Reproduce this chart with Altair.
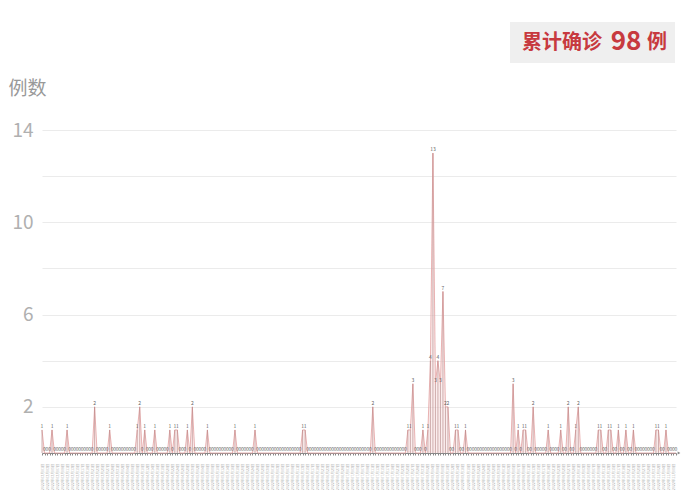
import altair as alt
import pandas as pd

# ---- data ----
N_DAYS = 254
dates = pd.date_range("2022-03-01", periods=N_DAYS).strftime("%Y年%m月%d日").tolist()

case_day_index = [0, 4, 10, 21, 27, 38, 39, 41, 45, 51, 53, 54, 58, 60, 66, 77, 85,
                  104, 105, 132, 146, 147, 148, 152, 154, 155, 156, 157, 158, 159,
                  160, 161, 162, 165, 166, 169, 188, 190, 192, 193, 196, 202, 207,
                  210, 213, 214, 222, 223, 226, 227, 230, 233, 236, 245, 246, 249]
case_counts = [1, 1, 1, 2, 1, 1, 2, 1, 1, 1, 1, 1, 1, 2, 1, 1, 1,
               1, 1, 2, 1, 1, 3, 1, 1, 4, 13, 3, 4, 3,
               7, 2, 2, 1, 1, 1, 3, 1, 1, 1, 2, 1, 1,
               2, 1, 2, 1, 1, 1, 1, 1, 1, 1, 1, 1, 1]

y_ticks = [0, 2, 4, 6, 8, 10, 12, 14]
total_text = ["累计确诊", "98", "例"]

counts = [0] * N_DAYS
for i, c in zip(case_day_index, case_counts):
    counts[i] = c
df = pd.DataFrame({"date": dates, "count": counts, "zero": [0] * N_DAYS})

FONT = "Noto Sans CJK SC"
RED = "#c73a3f"

x_enc = alt.X(
    "date:O",
    sort=None,
    scale=alt.Scale(type="point", padding=0),
    axis=alt.Axis(
        title=None, labelAngle=270, labelFontSize=3.6, labelColor="#b0b0b0",
        labelOverlap="parity", labelPadding=8, tickSize=2, tickColor="#888",
        domainColor="#888", domainWidth=1, grid=False, labelFont=FONT,
    ),
)
y_enc = alt.Y(
    "count:Q",
    scale=alt.Scale(domain=[0, 14], nice=False),
    axis=alt.Axis(
        values=y_ticks,
        labelExpr="datum.value % 4 == 2 ? datum.label : ''",
        grid=True, gridColor="#ebebeb", domain=False, ticks=False,
        labelFontSize=19, labelColor="#b0b0b0", labelPadding=9, labelFont=FONT,
        title="例数", titleAngle=0, titleX=-34, titleY=-42, titleAlign="left",
        titleBaseline="middle", titleFontSize=19, titleColor="#999999",
        titleFontWeight="normal", titleFont=FONT,
    ),
)

base = alt.Chart(df)

area = base.mark_area(color="#f6dada", opacity=0.45, interpolate="linear").encode(x=x_enc, y=y_enc)
line = base.mark_line(color="#e3a0a0", strokeWidth=0.8).encode(x=x_enc, y=y_enc)
stems = base.mark_rule(color="#b08080", strokeWidth=0.6).encode(
    x=x_enc, y=y_enc, y2=alt.Y2("zero:Q")
)
labels = base.mark_text(fontSize=5, color="#666666", baseline="bottom", dy=-1, font=FONT).encode(
    x=x_enc, y=y_enc, text="count:Q"
)

arrow_df = pd.DataFrame({"date": [dates[-1]], "count": [0]})
arrow = alt.Chart(arrow_df).mark_point(
    shape="triangle-right", filled=True, size=10, color="#888", xOffset=3, opacity=1
).encode(x=x_enc, y=y_enc)

deco_df = pd.DataFrame({"k": [0]})
box = alt.Chart(deco_df).mark_rect(color="#efefef").encode(
    x=alt.value(468), x2=alt.value(633), y=alt.value(-108), y2=alt.value(-67)
)
t1 = alt.Chart(deco_df).mark_text(
    text=total_text[0], font=FONT, fontSize=20, fontWeight="bold", color=RED,
    align="left", baseline="middle"
).encode(x=alt.value(480), y=alt.value(-87))
t2 = alt.Chart(deco_df).mark_text(
    text=total_text[1], font=FONT, fontSize=26, fontWeight="bold", color=RED,
    align="center", baseline="middle"
).encode(x=alt.value(584), y=alt.value(-88))
t3 = alt.Chart(deco_df).mark_text(
    text=total_text[2], font=FONT, fontSize=20, fontWeight="bold", color=RED,
    align="center", baseline="middle"
).encode(x=alt.value(615), y=alt.value(-87))

chart = alt.layer(area, line, stems, labels, arrow, box, t1, t2, t3).properties(
    width=634,
    height=323,
    autosize=alt.AutoSizeParams(type="none"),
    padding={"left": 34, "top": 122, "right": 16, "bottom": 39},
    background="white",
).configure_view(stroke=None)

chart.save("out.html", embed_options={"renderer": "svg", "actions": False})
